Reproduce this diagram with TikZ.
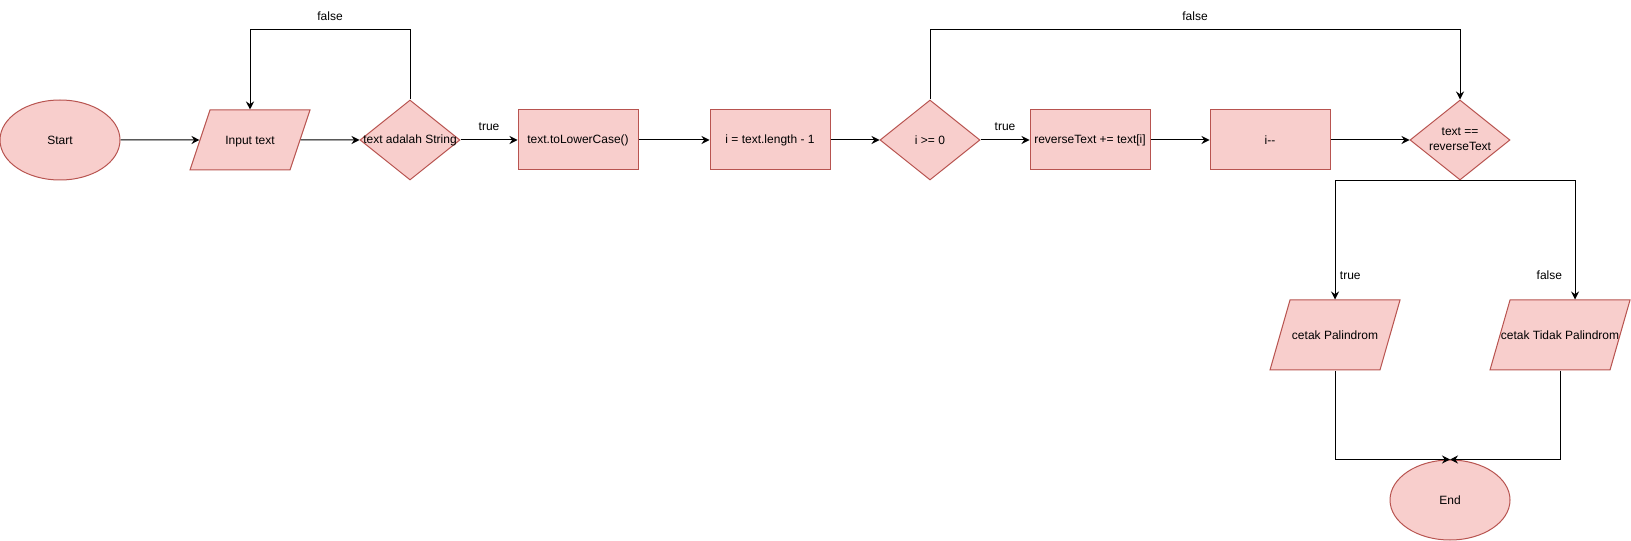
\documentclass[tikz,border=0pt]{standalone}
\usepackage{fontspec}
\setmainfont{Liberation Sans}
\usetikzlibrary{shapes.geometric,arrows.meta,calc}
\definecolor{boxfill}{HTML}{F8CECC}
\definecolor{boxline}{HTML}{B85450}
\newcommand{\wide}[1]{\makebox[0pt]{#1}}

\begin{document}
\begin{tikzpicture}[x=0.75pt,y=-0.75pt,
  every node/.style={font=\fontsize{9pt}{11pt}\selectfont},
  base/.style={draw=boxline,fill=boxfill,line width=0.75pt,inner sep=0pt},
  term/.style={base,ellipse,minimum width=90pt,minimum height=60pt},
  proc/.style={base,rectangle,minimum width=90pt,minimum height=45pt},
  io/.style={base,trapezium,trapezium stretches body,text height=25.7pt,text depth=19.3pt,minimum width=90pt,
    trapezium left angle=71.57,trapezium right angle=108.43},
  iotall/.style={io,text height=29.45pt,text depth=23.05pt,trapezium left angle=74.05,trapezium right angle=105.95},
  decision/.style={base,diamond,aspect=1.25,minimum width=75pt,minimum height=60pt},
  arr/.style={-{Stealth[length=6pt,width=6pt,inset=2pt]},line width=0.75pt},
  lbl/.style={above=3pt}]
\useasboundingbox (0,0) rectangle (1631,541);
\node[term] (start) at (60,140) {Start};
\node[io] (input) at (250,140) {\wide{Input text}};
\node[decision] (cek1) at (410,140) {\wide{text adalah String}};
\node[proc] (lower) at (578,140) {text.toLowerCase()};
\node[proc] (len) at (770,140) {i = text.length - 1};
\node[decision] (cek2) at (930,140) {\wide{i >= 0}};
\node[proc] (rev) at (1090,140) {reverseText += text[i]};
\node[proc] (dec) at (1270,140) {i-{}-};
\node[decision] (cek3) at (1460,140) {\wide{\begin{tabular}{@{}c@{}}text ==\\reverseText\end{tabular}}};
\node[iotall,minimum width=97.5pt] (yes) at (1335,335) {\wide{cetak Palindrom}};
\node[iotall,minimum width=105pt] (no) at (1560,335) {\wide{cetak Tidak Palindrom}};
\node[term] (end) at (1450,500) {End};

\foreach \s/\t in {start/input, input/cek1, lower/len, len/cek2, rev/dec, dec/cek3}
  \draw[arr] (\s) -- (\t);
\draw[arr] (cek1) -- node[lbl] {true} (lower);
\draw[arr] (cek2) -- node[lbl] {true} (rev);
% loops back over the top
\draw[arr] (cek1.north) |- node[lbl,pos=.75] {false} ($(input.north)+(0,-80)$) -- (input.north);
\draw[arr] (cek2.north) |- node[lbl,pos=.75] {false} ($(cek3.north)+(0,-70)$) -- (cek3.north);
% result branches
\draw[arr] (cek3.south) -| node[pos=.9,right=0pt] {true} (yes.north);
\draw[arr] (cek3.south) -| node[pos=.9,left=6pt] {false} ([xshift=11.25pt]no.north);
\draw[arr] (yes.south) |- (end.north);
\draw[arr] (no.south) |- (end.north);
\end{tikzpicture}
\end{document}
